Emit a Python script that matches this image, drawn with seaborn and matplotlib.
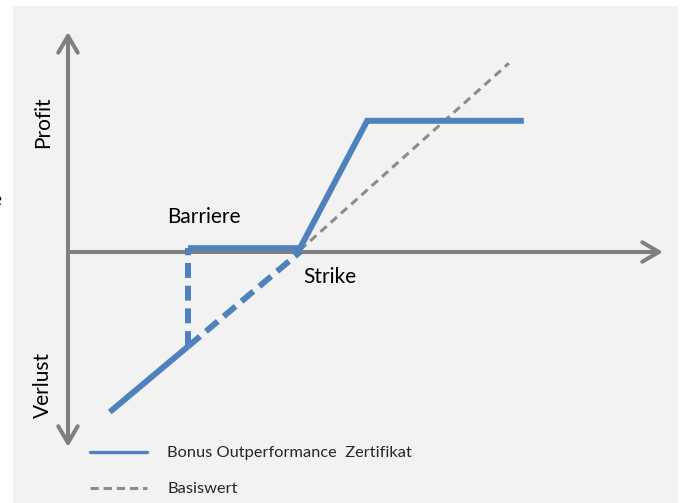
import matplotlib
matplotlib.use("Agg")
import matplotlib.pyplot as plt
import seaborn as sns
import pandas as pd
from matplotlib.lines import Line2D
from matplotlib.patches import Rectangle

sns.set_theme(style="white")
plt.rcParams['font.family'] = ['Lato', 'DejaVu Sans']

# ---- data (underlying price vs. profit) ----
bonus_low_x = [49, 70]          # solid part below barrier
bonus_low_y = [-50, -29.5]
bonus_gap_x = [70, 100]         # dashed diagonal barrier -> strike
bonus_gap_y = [-29.5, 0]
bonus_drop_x = [70, 70]         # dashed vertical at barrier
bonus_drop_y = [-29.5, 1.2]
bonus_main_x = [70, 100, 118, 160]   # bonus level, strike, cap, end
bonus_main_y = [1.2, 1.2, 41, 41]
basis_x = [100, 156]
basis_y = [0.6, 59]

axis_origin = (37.8, 0)
x_axis_end = 197.3
y_axis_top = 68.75
y_axis_bottom = -60.9

labels = {"profit": "Profit", "loss": "Verlust", "barrier": "Barriere", "strike": "Strike"}
legend_labels = ["Bonus Outperformance  Zertifikat", "Basiswert"]

blue = "#4f81bd"
gray = "#7f7f7f"
dgray = "#8c8c8c"

fig = plt.figure(figsize=(6.8, 5.03), dpi=100)
ax = fig.add_axes([0, 0, 1, 1])
ax.set_facecolor("none")
ax.set_xlim((0 + 73) / 3.73, (680 + 73) / 3.73)
ax.set_ylim((252 - 503) / 3.2, (252 - 0) / 3.2)
ax.axis("off")
ax.add_patch(Rectangle((13/680, 0), (678-13)/680, 1-6/503, transform=fig.transFigure,
                       facecolor="#f2f2f2", edgecolor="none", zorder=0, clip_on=False))

# axes arrows
arrow_kw = dict(arrowstyle="->,head_length=0.6,head_width=0.35", color=gray, lw=2.9,
                shrinkA=0, shrinkB=0, mutation_scale=20)
ox, oy = axis_origin
ax.annotate("", xy=(x_axis_end, oy), xytext=(ox, oy), arrowprops=arrow_kw, zorder=1)
ax.annotate("", xy=(ox, y_axis_top), xytext=(ox, oy), arrowprops=arrow_kw, zorder=1)
ax.annotate("", xy=(ox, y_axis_bottom), xytext=(ox, oy), arrowprops=arrow_kw, zorder=1)

def seg(x, y, **kw):
    df = pd.DataFrame({"x": x, "y": y})
    sns.lineplot(data=df, x="x", y="y", sort=False, estimator=None, ax=ax, legend=False, **kw)

seg(basis_x, basis_y, color=dgray, lw=2.2, dashes=(2.7, 1.8), zorder=2)
seg(bonus_gap_x, bonus_gap_y, color=blue, lw=4.3, dashes=(2.6, 1.3), zorder=3)
seg(bonus_drop_x, bonus_drop_y, color=blue, lw=4.3, dashes=(2.5, 1.3), zorder=3)
seg(bonus_low_x, bonus_low_y, color=blue, lw=4.3, zorder=3)
seg(bonus_main_x, bonus_main_y, color=blue, lw=4.3, zorder=4)
for l in ax.lines:
    l.set_solid_capstyle("butt")
    l.set_dash_capstyle("butt")
    l.set_solid_joinstyle("miter")

fs = 15
ax.text(31.1, 40.6, labels["profit"], rotation=90, ha="center", va="center", fontsize=fs, color="black")
ax.text(31.1, -41.6, labels["loss"], rotation=90, ha="center", va="center", fontsize=fs, color="black")
ax.text(74.3, 10.9, labels["barrier"], ha="center", va="center", fontsize=fs, color="black")
ax.text(100.8, -7.8, labels["strike"], ha="left", va="center", fontsize=fs, color="black")
fig.text(1.5/680, 1-200/503, "e", ha="right", va="center", fontsize=fs, color="black")

handles = [Line2D([], [], color=blue, lw=2.4),
           Line2D([], [], color=dgray, lw=2.2, dashes=(2.7, 1.6))]
leg = fig.legend(handles, legend_labels, loc="upper left",
                 bbox_to_anchor=(90/680, 1-446/503), frameon=False, fontsize=11.8,
                 handlelength=3.5, handletextpad=1.2, labelspacing=1.3, borderpad=0,
                 borderaxespad=0)

fig.savefig("out.png", dpi=100, facecolor="white")
